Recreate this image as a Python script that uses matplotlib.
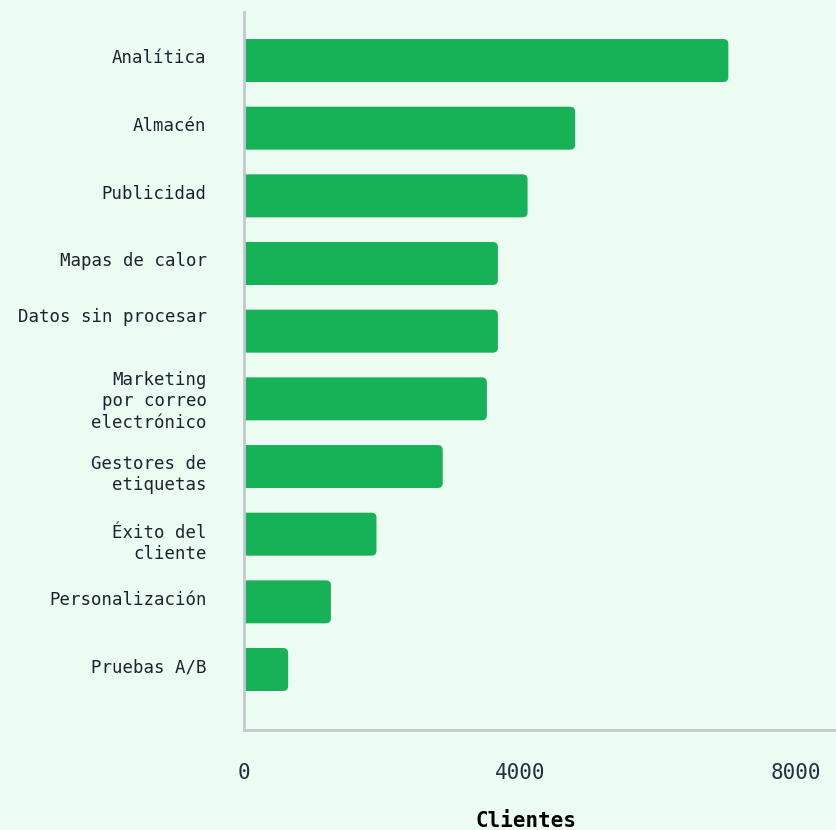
import matplotlib.pyplot as plt
from matplotlib.patches import FancyBboxPatch
from matplotlib.transforms import ScaledTranslation

# data
categories = ["Analítica", "Almacén", "Publicidad", "Mapas de calor",
              "Datos sin procesar\n", "Marketing\npor correo\nelectrónico",
              "Gestores de\netiquetas", "Éxito del\ncliente",
              "Personalización", "Pruebas A/B"]
clientes = [7020, 4800, 4110, 3680, 3680, 3520, 2880, 1920, 1260, 640]
x_ticks = [0, 4000, 8000]

bg = "#edfcf2"
bar_color = "#17b157"
spine_color = "#c3c8d0"
text_color = "#1c2230"

plt.rcParams['font.family'] = ['DejaVu Sans Mono', 'DejaVu Sans']

fig = plt.figure(figsize=(8.36, 8.30), dpi=100, facecolor=bg)
ax = fig.add_axes([244 / 836, 100 / 830, 592 / 836, 718 / 830])
ax.set_facecolor(bg)

bars = ax.barh(range(len(categories)), clientes, height=0.635, color=bar_color)
ax.set_xlim(0, 8580)
ax.set_ylim(9.894, -0.717)

# swap the plain rectangles for ones with rounded right-hand corners
px_x = 8580 / 592          # data units per pixel (x)
px_y = 10.611 / 718        # data units per pixel (y)
r = 5 * px_x
for rect in bars:
    x, y, w, h = rect.get_x(), rect.get_y(), rect.get_width(), rect.get_height()
    rect.set_visible(False)
    ax.add_patch(FancyBboxPatch((x - r, y), w + r, h,
                                boxstyle=f"round,pad=0,rounding_size={r}",
                                mutation_aspect=px_y / px_x,
                                facecolor=bar_color, edgecolor="none"))

ax.set_yticks(range(len(categories)))
ax.set_yticklabels(categories, fontsize=12.5, color=text_color, linespacing=1.25)
ax.set_xticks(x_ticks)
ax.set_xticklabels([str(t) for t in x_ticks], fontsize=15, color="#273043")
ax.tick_params(axis='y', length=0, pad=27)
ax.tick_params(axis='x', length=0, pad=24)

# small vertical nudges (points, up is positive) so labels sit like the original
nudges = [3, 3, 3, 3, 5, 1, -3, -4, 3, 3]
for lbl, dy in zip(ax.get_yticklabels(), nudges):
    lbl.set_transform(lbl.get_transform() + ScaledTranslation(0, dy / 72, fig.dpi_scale_trans))

ax.set_xlabel("Clientes", fontsize=15, fontweight='bold', color="black")
ax.xaxis.set_label_coords(0.476, -0.113)

for side in ['top', 'right']:
    ax.spines[side].set_visible(False)
for side in ['left', 'bottom']:
    ax.spines[side].set_color(spine_color)
    ax.spines[side].set_linewidth(2)

fig.savefig("out.png", dpi=100, facecolor=bg)
